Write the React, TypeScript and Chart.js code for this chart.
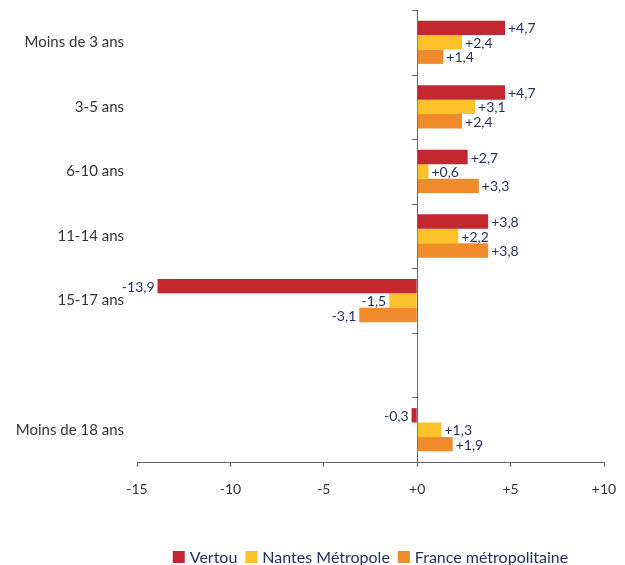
import React, { useEffect, useRef } from 'react';
import { Chart, registerables } from 'chart.js';

Chart.register(...registerables);

const categories = ['Moins de 3 ans', '3-5 ans', '6-10 ans', '11-14 ans', '15-17 ans', '', 'Moins de 18 ans'];
const vertou = [4.7, 4.7, 2.7, 3.8, -13.9, null, -0.3];
const nantes = [2.4, 3.1, 0.6, 2.2, -1.5, null, 1.3];
const france = [1.4, 2.4, 3.3, 3.8, -3.1, null, 1.9];
const seriesNames = ['Vertou', 'Nantes Métropole', 'France métropolitaine'];
const seriesColors = ['#C3272F', '#FFC22A', '#F18A2A'];
const xTickValues = [-15, -10, -5, 0, 5, 10];
const xTickLabels = ['-15', '-10', '-5', '+0', '+5', '+10'];

const AXIS = '#666666';
const TEXT = '#333333';
const NAVY = '#1F2D5C';
const FONT = 'Lato, "Open Sans", sans-serif';

const fmt = (v: number) => (v > 0 ? '+' : '') + v.toFixed(1).replace('.', ',');

const zeroPad = (s: any) => {
  s.paddingTop = 0;
  s.paddingBottom = 0;
  s.paddingLeft = 0;
  s.paddingRight = 0;
};

const customPlugin = {
  id: 'customDraw',
  afterDatasetsDraw(chart: any) {
    const ctx = chart.ctx;
    const xs = chart.scales.x;
    const area = chart.chartArea;
    const x0 = xs.getPixelForValue(0);
    ctx.save();
    ctx.strokeStyle = AXIS;
    ctx.lineWidth = 1;
    const n = chart.data.labels.length;
    const step = (area.bottom - area.top) / n;
    for (let i = 0; i < n; i++) {
      const yy = Math.round(area.top + i * step) + 0.5;
      ctx.beginPath();
      ctx.moveTo(x0 - 5, yy);
      ctx.lineTo(x0, yy);
      ctx.stroke();
    }
    ctx.font = `14px ${FONT}`;
    ctx.fillStyle = NAVY;
    ctx.textBaseline = 'middle';
    chart.data.datasets.forEach((ds: any, di: number) => {
      const meta = chart.getDatasetMeta(di);
      meta.data.forEach((bar: any, i: number) => {
        const v = ds.data[i];
        if (v == null) return;
        const txt = fmt(v);
        if (v >= 0) {
          ctx.textAlign = 'left';
          ctx.fillText(txt, bar.x + 3, bar.y + 1);
        } else {
          ctx.textAlign = 'right';
          ctx.fillText(txt, bar.x - 3, bar.y + 1);
        }
      });
    });
    ctx.font = `16px ${FONT}`;
    const box = 12;
    const gapText = 5;
    const gapItem = 8;
    const items = chart.data.datasets.map((ds: any) => ({
      label: ds.label,
      color: ds.backgroundColor,
      w: box + gapText + ctx.measureText(ds.label).width,
    }));
    const total = items.reduce((s: number, it: any) => s + it.w, 0) + gapItem * (items.length - 1);
    let lx = (area.left + area.right) / 2 - total / 2;
    const ly = 557;
    items.forEach((it: any) => {
      ctx.fillStyle = it.color;
      ctx.fillRect(lx, ly - box / 2, box, box);
      ctx.fillStyle = NAVY;
      ctx.textAlign = 'left';
      ctx.textBaseline = 'middle';
      ctx.fillText(it.label, lx + box + gapText, ly + 1);
      lx += it.w + gapItem;
    });
    ctx.restore();
  },
};

export default function App() {
  const ref = useRef<HTMLCanvasElement>(null);
  useEffect(() => {
    if (!ref.current) return;
    const chart = new Chart(ref.current, {
      type: 'bar',
      data: {
        labels: categories,
        datasets: [
          { label: seriesNames[0], data: vertou, backgroundColor: seriesColors[0] },
          { label: seriesNames[1], data: nantes, backgroundColor: seriesColors[1] },
          { label: seriesNames[2], data: france, backgroundColor: seriesColors[2] },
        ] as any,
      },
      options: {
        indexAxis: 'y',
        animation: false,
        responsive: false,
        datasets: { bar: { categoryPercentage: 0.67, barPercentage: 1.0 } },
        layout: { padding: { top: 10, right: 21, bottom: 63, left: 0 } },
        plugins: { legend: { display: false }, tooltip: { enabled: false } },
        scales: {
          x: {
            min: -15,
            max: 10,
            afterBuildTicks: (s: any) => {
              s.ticks = xTickValues.map((v) => ({ value: v }));
            },
            afterFit: (s: any) => {
              s.height = 40;
              zeroPad(s);
            },
            ticks: {
              callback: (_v: any, i: number) => xTickLabels[i],
              font: { family: FONT, size: 14 },
              color: TEXT,
              padding: 14,
              maxRotation: 0,
            },
            grid: {
              color: (c: any) => (c.tick && c.tick.value === 0 ? AXIS : 'rgba(0,0,0,0)'),
              tickColor: AXIS,
              tickLength: 5,
              lineWidth: 1,
            },
            border: { display: true, color: AXIS },
          },
          y: {
            afterFit: (s: any) => {
              s.width = 137;
              zeroPad(s);
            },
            ticks: {
              font: { family: FONT, size: 15 },
              color: TEXT,
              padding: 13,
            },
            grid: { display: false, drawTicks: false },
            border: { display: false },
          },
        },
      } as any,
      plugins: [customPlugin],
    });
    return () => chart.destroy();
  }, []);
  return (
    <div style={{ position: 'absolute', left: 0, top: 0, width: 625, height: 565, background: '#fff' }}>
      <canvas ref={ref} width={625} height={565} style={{ display: 'block' }} />
    </div>
  );
}
